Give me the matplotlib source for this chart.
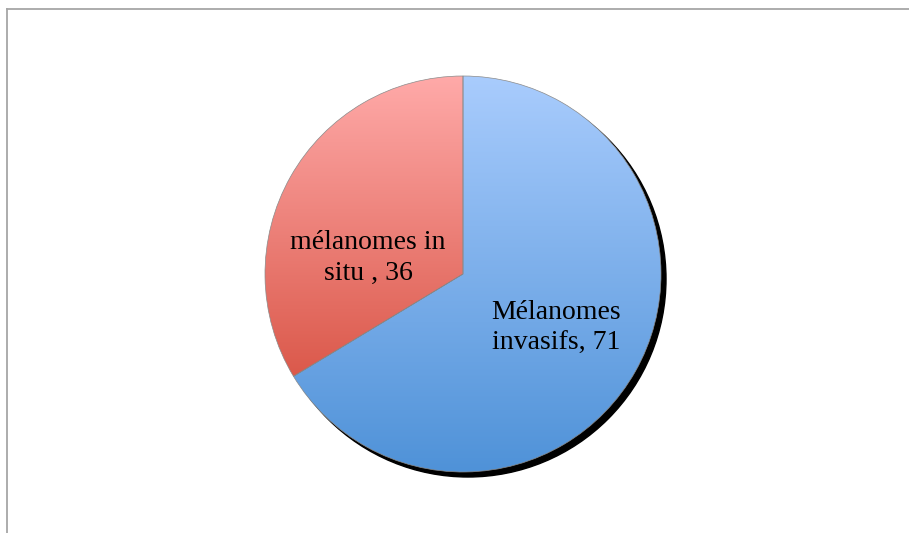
import numpy as np
import matplotlib
matplotlib.use("Agg")
import matplotlib.pyplot as plt
from matplotlib.colors import LinearSegmentedColormap
from matplotlib.patches import Circle

labels = ["Mélanomes\ninvasifs, 71", "mélanomes in\nsitu , 36"]
values = [71, 36]
grads = [("#A9CCFD", "#4F92D8"), ("#FFAAA9", "#DB594B")]

W, H = 909, 533
fig = plt.figure(figsize=(W / 100, H / 100), dpi=100)
ax = fig.add_axes([0, 0, 1, 1])

cx, cy, R = 463, 259, 198

# drop shadow
ax.add_patch(Circle((cx + 5, cy - 5), R, color="black", zorder=1))

wedges, _ = ax.pie(values, center=(cx, cy), radius=R, startangle=90,
                   counterclock=False, frame=True,
                   wedgeprops=dict(linewidth=0.5, edgecolor="#8a8a8a"))
ax.set_xlim(0, W); ax.set_ylim(0, H); ax.axis("off")
ax.set_aspect("equal")

# vertical gradient per slice
for w, (top, bot) in zip(wedges, grads):
    w.set_facecolor("none")
    bb = w.get_path().get_extents(w.get_patch_transform())
    cm = LinearSegmentedColormap.from_list("g", [bot, top])
    grad = np.linspace(0, 1, 256).reshape(-1, 1)
    im = ax.imshow(grad, cmap=cm, origin="lower", aspect="auto",
                   extent=(bb.x0, bb.x1, bb.y0, bb.y1), zorder=2)
    im.set_clip_path(w)
    w.set_zorder(3)

ax.text(556, 205, labels[0], ha="center", va="center", fontsize=20,
        family="Liberation Serif", linespacing=1.3, zorder=5)
ax.text(368, 275, labels[1], ha="center", va="center", fontsize=20,
        family="Liberation Serif", linespacing=1.3, zorder=5)

# chart frame (cut off on right and bottom)
ax.plot([6.5, W], [H - 8.5, H - 8.5], color="#a6a6a6", lw=1.3, zorder=6)
ax.plot([6.5, 6.5], [0, H - 8.5], color="#a6a6a6", lw=1.3, zorder=6)

fig.savefig("out.png", dpi=100)
